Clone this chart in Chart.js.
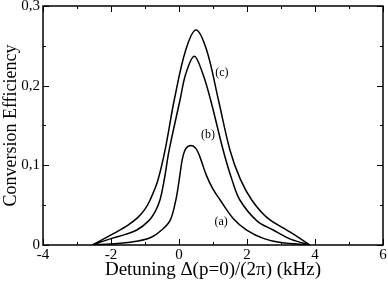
<!DOCTYPE html>
<html>
<head>
<meta charset="utf-8">
<script src="https://cdn.jsdelivr.net/npm/chart.js@4/dist/chart.umd.min.js"></script>
<style>
  body { margin: 0; background: #fff; }
</style>
</head>
<body>
<canvas id="efficiencyChart" width="388" height="281"></canvas>
<script>
// detuning (kHz) and conversion efficiency
const detuningC = [-2.55, -2.2, -1.9, -1.5, -1.2, -1.0, -0.85, -0.63, -0.41, -0.14, 0.2, 0.5, 0.81, 1.16, 1.5, 1.8, 2.14, 2.6, 3.17, 3.5, 3.85];
const effC = [0, 0.008, 0.015, 0.025, 0.035, 0.045, 0.0565, 0.08, 0.119, 0.182, 0.245, 0.27, 0.245, 0.182, 0.119, 0.083, 0.0565, 0.034, 0.0188, 0.01, 0];

const detuningB = [-2.55, -2.0, -1.6, -1.24, -0.9, -0.7, -0.56, -0.43, -0.29, 0.03, 0.2, 0.45, 0.7, 0.93, 1.3, 1.55, 1.79, 2.3, 2.77, 3.3, 3.85];
const effB = [0, 0.008, 0.013, 0.0188, 0.03, 0.042, 0.0565, 0.083, 0.119, 0.182, 0.215, 0.237, 0.215, 0.182, 0.119, 0.083, 0.0565, 0.03, 0.0188, 0.007, 0];

const detuningA = [-2.55, -1.8, -1.2, -0.8, -0.51, -0.26, -0.1, 0, 0.1, 0.2, 0.35, 0.5, 0.62, 0.8, 1.0, 1.21, 1.6, 1.99, 2.5, 3.0, 3.85];
const effA = [0, 0.002, 0.005, 0.01, 0.0188, 0.031, 0.055, 0.08, 0.108, 0.121, 0.125, 0.121, 0.11, 0.088, 0.07, 0.0565, 0.033, 0.0188, 0.008, 0.003, 0];

const curveNames = ["(a)", "(b)", "(c)"];
const namePos = [[1.24, 0.029], [0.85, 0.138], [1.26, 0.216]];

const xTicks = [-4, -2, 0, 2, 4, 6];
const yTicks = ["0", "0,1", "0,2", "0,3"];

function pts(xs, ys) {
  return xs.map((x, i) => ({ x: x, y: ys[i] }));
}

const serif = "'Liberation Serif', 'DejaVu Serif', serif";

// frame, inward ticks (major + minor) and curve names
const framePlugin = {
  id: "frame",
  afterDraw(chart) {
    const c = chart.ctx;
    const a = chart.chartArea;
    const xs = chart.scales.x;
    const ys = chart.scales.y;
    c.save();
    c.strokeStyle = "#000";
    c.lineWidth = 1.5;
    c.strokeRect(a.left, a.top, a.right - a.left, a.bottom - a.top);
    c.lineWidth = 1;
    c.beginPath();
    for (let v = -4; v <= 6; v += 1) {
      const px = Math.round(xs.getPixelForValue(v)) + 0.5;
      const len = v % 2 === 0 ? 6 : 3;
      c.moveTo(px, a.bottom); c.lineTo(px, a.bottom - len);
      c.moveTo(px, a.top); c.lineTo(px, a.top + len);
    }
    for (let k = 0; k <= 6; k++) {
      const py = Math.round(ys.getPixelForValue(k * 0.05)) + 0.5;
      const len = k % 2 === 0 ? 6 : 3;
      c.moveTo(a.left, py); c.lineTo(a.left + len, py);
      c.moveTo(a.right, py); c.lineTo(a.right - len, py);
    }
    c.stroke();
    c.fillStyle = "#000";
    c.font = "12px " + serif;
    c.textAlign = "center";
    c.textBaseline = "middle";
    curveNames.forEach((n, i) => {
      c.fillText(n, xs.getPixelForValue(namePos[i][0]), ys.getPixelForValue(namePos[i][1]));
    });
    c.restore();
  }
};

const lineStyle = {
  borderColor: "#000",
  borderWidth: 1.5,
  pointRadius: 0,
  fill: false,
  tension: 0.35
};

new Chart(document.getElementById("efficiencyChart").getContext("2d"), {
  type: "line",
  data: {
    datasets: [
      Object.assign({ label: curveNames[0], data: pts(detuningA, effA) }, lineStyle),
      Object.assign({ label: curveNames[1], data: pts(detuningB, effB) }, lineStyle),
      Object.assign({ label: curveNames[2], data: pts(detuningC, effC) }, lineStyle)
    ]
  },
  options: {
    responsive: false,
    animation: false,
    layout: { padding: 0 },
    plugins: { legend: { display: false }, tooltip: { enabled: false } },
    scales: {
      x: {
        type: "linear",
        min: -4,
        max: 6,
        grid: { display: false, drawTicks: false },
        border: { display: false },
        ticks: {
          stepSize: 2,
          autoSkip: false,
          maxRotation: 0,
          padding: 1,
          color: "#000",
          font: { family: serif, size: 15 },
          callback: (v) => (xTicks.includes(v) ? String(v) : "")
        },
        title: {
          display: true,
          text: "Detuning \u0394(p=0)/(2\u03c0) (kHz)",
          color: "#000",
          font: { family: serif, size: 19 },
          padding: { top: 0, bottom: 0 }
        },
        afterFit(scale) {
          scale.height = 36;
          scale.paddingLeft = 0;
          scale.paddingRight = 5;
        }
      },
      y: {
        min: 0,
        max: 0.3,
        grid: { display: false, drawTicks: false },
        border: { display: false },
        ticks: {
          stepSize: 0.1,
          padding: 3,
          color: "#000",
          font: { family: serif, size: 15 },
          callback: (v) => yTicks[Math.round(v * 10)]
        },
        title: {
          display: true,
          text: "Conversion Efficiency",
          color: "#000",
          font: { family: serif, size: 18 },
          padding: { top: 0, bottom: 0 }
        },
        afterFit(scale) {
          scale.width = 43;
          scale.paddingTop = 6;
          scale.paddingBottom = 0;
        }
      }
    }
  },
  plugins: [framePlugin]
});
</script>
</body>
</html>
